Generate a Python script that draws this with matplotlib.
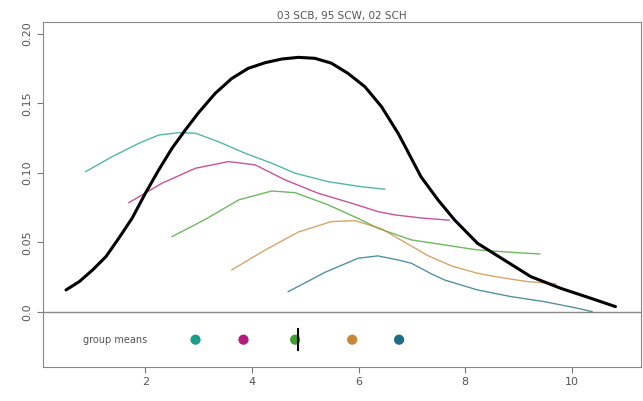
import numpy as np
import matplotlib.pyplot as plt

# overall density (thick black line)
total_x = [0.51, 0.76, 1.01, 1.26, 1.5, 1.75, 2.0, 2.25, 2.5, 2.75, 3.0, 3.31, 3.62, 3.93,
           4.25, 4.56, 4.87, 5.18, 5.49, 5.8, 6.12, 6.43, 6.74, 6.86, 7.17, 7.49, 7.8,
           8.23, 8.73, 9.23, 9.79, 10.35, 10.82]
total_y = [0.0158, 0.0218, 0.0302, 0.0398, 0.053, 0.0674, 0.0854, 0.1022, 0.1178, 0.131,
           0.1435, 0.1573, 0.168, 0.1753, 0.1794, 0.182, 0.1832, 0.1825, 0.179, 0.1717,
           0.162, 0.1477, 0.1286, 0.12, 0.0973, 0.0806, 0.0662, 0.0494, 0.0374, 0.0254,
           0.017, 0.0099, 0.0038]

# group densities
teal_x = [0.88, 1.38, 1.88, 2.25, 2.63, 2.94, 3.37, 3.87, 4.37, 4.81, 5.43, 6.05, 6.49]
teal_y = [0.101, 0.1118, 0.1214, 0.1273, 0.129, 0.1286, 0.1225, 0.1142, 0.107, 0.0998,
          0.0937, 0.0901, 0.0883]
mag_x = [1.69, 2.31, 2.94, 3.56, 4.06, 4.62, 5.24, 5.87, 6.36, 6.68, 7.2, 7.7]
mag_y = [0.0786, 0.0926, 0.1034, 0.1082, 0.1058, 0.095, 0.0854, 0.0782, 0.0722, 0.0698,
         0.0675, 0.066]
green_x = [2.5, 3.13, 3.75, 4.37, 4.81, 5.43, 6.05, 6.36, 6.99, 7.61, 8.23, 8.86, 9.4]
green_y = [0.0542, 0.0667, 0.0806, 0.087, 0.0858, 0.077, 0.0662, 0.0602, 0.0518, 0.0482,
           0.0446, 0.0429, 0.0417]
orange_x = [3.62, 4.25, 4.87, 5.49, 5.93, 6.42, 6.85, 7.3, 7.75, 8.23, 8.7, 9.17, 9.7]
orange_y = [0.0302, 0.0446, 0.0575, 0.065, 0.0657, 0.06, 0.0505, 0.0405, 0.033, 0.0278,
            0.0245, 0.0218, 0.0202]
blue_x = [4.68, 5.0, 5.37, 5.99, 6.36, 6.74, 6.99, 7.36, 7.61, 8.23, 8.86, 9.48, 10.1, 10.38]
blue_y = [0.0146, 0.021, 0.0285, 0.0386, 0.0403, 0.0374, 0.035, 0.0275, 0.023, 0.0158,
          0.011, 0.0074, 0.0027, 0.0002]

group_means = [2.94, 3.84, 4.81, 5.88, 6.76]
overall_mean = 4.87
colors = ['#1b9e8a', '#b5197c', '#3ea02e', '#c8883a', '#1f6c82']

fig = plt.figure(figsize=(6.43, 4.01), dpi=100)
ax = fig.add_axes([0.067, 0.085, 0.93, 0.86])

ax.axhline(0, color='#888888', lw=1)
curves = [(teal_x, teal_y), (mag_x, mag_y), (green_x, green_y), (orange_x, orange_y), (blue_x, blue_y)]
for (xs, ys), c in zip(curves, colors):
    ax.plot(xs, ys, color=c, lw=1, alpha=0.75)
ax.plot(total_x, total_y, color='black', lw=2.2, solid_capstyle='round', solid_joinstyle='round')

# group means row
ax.text(0.82, -0.02, 'group means', fontsize=7, color='#555555', va='center')
ax.scatter(group_means, [-0.02] * 5, color=colors, s=40, zorder=3)
ax.plot([overall_mean, overall_mean], [-0.0122, -0.0275], color='black', lw=1.5, zorder=4)

ax.set_xlim(0.08, 11.3)
ax.set_ylim(-0.0396, 0.2086)
ax.set_xticks([2, 4, 6, 8, 10])
ax.set_yticks([0.0, 0.05, 0.10, 0.15, 0.20])
ax.set_yticklabels(['0.0', '0.05', '0.10', '0.15', '0.20'], rotation=90, va='center')
ax.tick_params(colors='#555555', labelsize=8, length=4, color='#777777')
for s in ax.spines.values():
    s.set_color('#888888')
ax.set_title('03 SCB, 95 SCW, 02 SCH', fontsize=7.5, color='#555555', pad=2)

fig.savefig('out.png', dpi=100)
